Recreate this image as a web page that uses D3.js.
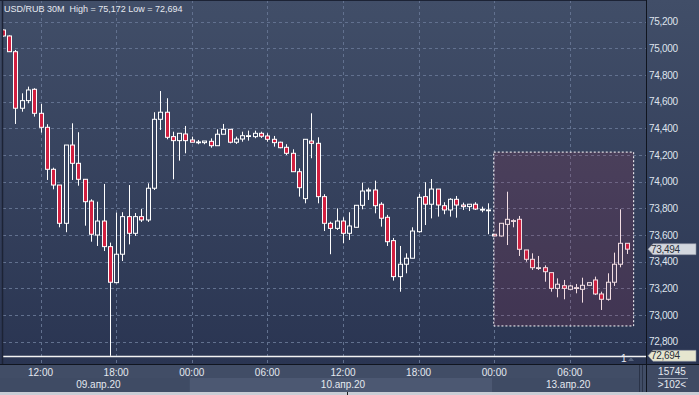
<!DOCTYPE html>
<html>
<head>
<meta charset="utf-8">
<script src="https://cdn.jsdelivr.net/npm/d3@7"></script>
<style>
  html, body { margin: 0; padding: 0; background: #2e3a55; }
  svg { display: block; font-family: "Liberation Sans", Arial, sans-serif; }
</style>
</head>
<body>
<div id="chart"></div>
<script>
// USD/RUB, 30 minute candles, 09.04.20 09:00 .. 13.04.20 10:30
const openPrices = [
  75138, 75093, 74975, 74551, 74608, 74693, 74513, 74408, 74093, 73975,
  73688, 74275, 74138, 74018, 73855, 73600, 73705, 73513, 73243, 73456,
  73738, 73613, 73738, 73713, 73951, 74468, 74521, 74338, 74308, 74358,
  74313, 74298, 74293, 74303, 74270, 74356, 74393, 74296, 74320, 74345,
  74338, 74363, 74343, 74318, 74296, 74258, 74213, 74075, 73873, 74305,
  74288, 73888, 73688, 73650, 73705, 73613, 73658, 73823, 73930, 73938,
  73831, 73733, 73558, 73288, 73381, 73426, 73625, 73888, 73831, 73945,
  73820, 73788, 73868, 73825, 73813, 73831, 73793, 73788, 73606, 73593,
  73680, 73708, 73718, 73488, 73418, 73355, 73355, 73318, 73200, 73220,
  73193, 73205, 73193, 73223, 73263, 73158, 73118, 73246, 73381, 73538
];
const highPrices = [
  75145, 75097, 74988, 74663, 74713, 74701, 74583, 74431, 74105, 73975,
  74275, 74438, 74371, 74018, 73868, 73850, 73983, 73543, 73768, 73771,
  73975, 73765, 73795, 73988, 74521, 74680, 74626, 74375, 74363, 74418,
  74338, 74313, 74305, 74325, 74393, 74433, 74393, 74338, 74375, 74383,
  74383, 74375, 74363, 74343, 74300, 74281, 74243, 74100, 74318, 74513,
  74333, 73906, 73700, 73800, 73733, 73771, 73823, 73993, 73955, 74008,
  73846, 73751, 73578, 73518, 73463, 73658, 73908, 73996, 74020, 73945,
  73846, 73876, 73893, 73843, 73831, 73846, 73813, 73838, 73606, 73688,
  73925, 73718, 73743, 73488, 73463, 73443, 73373, 73318, 73275, 73263,
  73225, 73233, 73280, 73243, 73288, 73175, 73313, 73468, 73793, 73538
];
const lowPrices = [
  75085, 74973, 74433, 74525, 74588, 74488, 74368, 74013, 73943, 73658,
  73621, 74013, 73970, 73670, 73550, 73518, 73480, 72694, 73238, 73405,
  73530, 73593, 73698, 73698, 73938, 74388, 74318, 74018, 74158, 74213,
  74296, 74281, 74281, 74255, 74270, 74356, 74288, 74283, 74300, 74308,
  74326, 74328, 74300, 74263, 74251, 74200, 74075, 73888, 73838, 74176,
  73838, 73630, 73456, 73638, 73538, 73563, 73658, 73793, 73863, 73763,
  73663, 73518, 73258, 73175, 73313, 73426, 73618, 73675, 73725, 73738,
  73756, 73738, 73730, 73788, 73780, 73788, 73771, 73606, 73593, 73588,
  73525, 73658, 73443, 73400, 73338, 73338, 73250, 73175, 73133, 73118,
  73188, 73163, 73093, 73223, 73150, 73038, 73108, 73218, 73358, 73458
];
const closePrices = [
  75093, 74975, 74551, 74608, 74688, 74513, 74408, 74093, 73975, 73688,
  74275, 74138, 74018, 73850, 73606, 73705, 73513, 73246, 73456, 73738,
  73613, 73738, 73713, 73951, 74468, 74521, 74333, 74308, 74363, 74308,
  74296, 74298, 74305, 74270, 74356, 74393, 74296, 74320, 74345, 74345,
  74363, 74341, 74318, 74293, 74255, 74213, 74075, 73955, 74318, 74288,
  73888, 73688, 73650, 73705, 73613, 73668, 73823, 73930, 73938, 73820,
  73726, 73550, 73288, 73381, 73426, 73630, 73883, 73831, 73945, 73825,
  73788, 73868, 73825, 73813, 73831, 73795, 73793, 73788, 73593, 73688,
  73718, 73708, 73493, 73418, 73355, 73355, 73325, 73200, 73231, 73200,
  73218, 73205, 73223, 73243, 73158, 73118, 73246, 73381, 73538, 73494
];

// time axis: candle index -> label
const timeTickIndex = [6, 18, 30, 42, 54, 66, 78, 90];
const timeTickLabels = ["12:00", "18:00", "00:00", "06:00", "12:00", "18:00", "00:00", "06:00"];
// trading days: first candle index of each day
const dayStartIndex = [0, 30, 78];
const dayLabels = ["09.апр.20", "10.апр.20", "13.апр.20"];
const priceTicks = [72800, 73000, 73200, 73400, 73600, 73800, 74000, 74200, 74400, 74600, 74800, 75000, 75200];

const title = "USD/RUB 30M  High = 75,172 Low = 72,694";
const lastPrice = 73494;
const lowPrice = 72694;
// highlighted area (candle index range, price range)
const selFrom = 78, selTo = 100.2, selHigh = 74222, selLow = 72918;

const W = 699, H = 395;
const plotRight = 646, plotBottom = 364;

const candles = openPrices.map((o, i) => ({
  i: i, o: o, h: highPrices[i], l: lowPrices[i], c: closePrices[i]
}));

const x = d3.scaleLinear().domain([0, candles.length - 1]).range([2.7, 626.6]);
const y = d3.scaleLinear().domain([72800, 75200]).range([341.7, 21.7]);

const svg = d3.select("#chart").append("svg")
  .attr("width", W).attr("height", H);

const defs = svg.append("defs");
const grad = defs.append("linearGradient").attr("id", "bg")
  .attr("x1", 0).attr("y1", 0).attr("x2", 0).attr("y2", 1);
grad.append("stop").attr("offset", "0%").attr("stop-color", "#414e68");
grad.append("stop").attr("offset", "100%").attr("stop-color", "#2a3552");
defs.append("clipPath").attr("id", "plotclip")
  .append("rect").attr("x", 3).attr("y", 0).attr("width", plotRight - 3).attr("height", plotBottom);

// backgrounds
svg.append("rect").attr("width", W).attr("height", H).attr("fill", "#c9cdd5");
svg.append("rect").attr("width", W).attr("height", plotBottom).attr("fill", "url(#bg)");

// time axis area
svg.append("rect").attr("x", 0).attr("y", plotBottom).attr("width", W).attr("height", 28).attr("fill", "#414d66");
dayStartIndex.forEach((s, k) => {
  const x0 = k === 0 ? 0 : x(s) - 2;
  const x1 = k + 1 < dayStartIndex.length ? x(dayStartIndex[k + 1]) - 2 : 640;
  svg.append("rect").attr("x", x0).attr("y", 378).attr("width", x1 - x0).attr("height", 14)
    .attr("fill", k % 2 === 1 ? "#4c5872" : "#3f4b64");
  svg.append("text").attr("x", (Math.max(x0, 3) + x1) / 2 + 2).attr("y", 388)
    .attr("text-anchor", "middle").attr("font-size", 10).attr("fill", "#e4e8ef")
    .text(dayLabels[k]);
});
svg.append("rect").attr("x", 639).attr("y", plotBottom).attr("width", 1).attr("height", 28).attr("fill", "#2a3348");
svg.append("rect").attr("x", 642).attr("y", plotBottom).attr("width", 1).attr("height", 28).attr("fill", "#2a3348");

svg.selectAll("text.time").data(timeTickIndex).enter().append("text")
  .attr("class", "time")
  .attr("x", d => x(d)).attr("y", 376)
  .attr("text-anchor", "middle").attr("font-size", 10).attr("fill", "#e4e8ef")
  .text((d, k) => timeTickLabels[k]);

// plot
const plot = svg.append("g").attr("clip-path", "url(#plotclip)");

plot.selectAll("line.hgrid").data(priceTicks).enter().append("line")
  .attr("x1", 3).attr("x2", plotRight)
  .attr("y1", d => Math.round(y(d)) + 0.5).attr("y2", d => Math.round(y(d)) + 0.5)
  .attr("stroke", "#62718f").attr("stroke-dasharray", "3,3");

plot.selectAll("line.vgrid").data(timeTickIndex).enter().append("line")
  .attr("x1", d => Math.round(x(d)) + 0.5).attr("x2", d => Math.round(x(d)) + 0.5)
  .attr("y1", 0).attr("y2", plotBottom)
  .attr("stroke", "#62718f").attr("stroke-dasharray", "3,3");

// low line
plot.append("line").attr("x1", 3).attr("x2", plotRight)
  .attr("y1", Math.round(y(lowPrice)) + 0.5).attr("y2", Math.round(y(lowPrice)) + 0.5)
  .attr("stroke", "#f4f4f4").attr("stroke-width", 1.3);

const cg = plot.selectAll("g.candle").data(candles).enter().append("g").attr("class", "candle");
cg.append("line")
  .attr("x1", d => Math.round(x(d.i)) + 0.5).attr("x2", d => Math.round(x(d.i)) + 0.5)
  .attr("y1", d => y(d.h)).attr("y2", d => y(d.l))
  .attr("stroke", "#ffffff").attr("stroke-width", 1);
cg.append("rect")
  .attr("x", d => Math.round(x(d.i)) - 1.5)
  .attr("y", d => y(Math.max(d.o, d.c)))
  .attr("width", 4)
  .attr("height", d => Math.max(0.8, Math.abs(y(d.o) - y(d.c))))
  .attr("fill", d => d.c < d.o ? "#d21f40" : "#37435f")
  .attr("stroke", "#ffffff").attr("stroke-width", 1);

// selection overlay
plot.append("rect")
  .attr("x", x(selFrom) - 0.5).attr("y", y(selHigh))
  .attr("width", x(selTo) - x(selFrom)).attr("height", y(selLow) - y(selHigh))
  .attr("fill", "rgb(175,45,75)").attr("fill-opacity", 0.16)
  .attr("stroke", "#ffffff").attr("stroke-dasharray", "2,2").attr("stroke-width", 1);

// title, sized to span the same width as the original caption
const titleText = svg.append("text").attr("x", 4).attr("y", 11.5).attr("font-size", 11).attr("fill", "#e6e9f0")
  .attr("xml:space", "preserve").style("white-space", "pre")
  .text(title);
const tl = titleText.node().getComputedTextLength();
if (tl > 0) titleText.attr("font-size", Math.min(12, 11 * 179 / tl));

// "1" marker
svg.append("text").attr("x", 621).attr("y", 362).attr("font-size", 10).attr("fill", "#e6e9f0").text("1");
svg.append("path").attr("d", "M628,361 L631,357 L634,361 Z").attr("fill", "#56637d");

// plot borders
svg.append("line").attr("x1", 0).attr("x2", plotRight).attr("y1", 0.5).attr("y2", 0.5).attr("stroke", "#1c2335");
svg.append("line").attr("x1", 2.5).attr("x2", 2.5).attr("y1", 0).attr("y2", plotBottom).attr("stroke", "#1c2335").attr("stroke-width", 1.5);
svg.append("line").attr("x1", 0).attr("x2", W).attr("y1", plotBottom + 0.5).attr("y2", plotBottom + 0.5).attr("stroke", "#10151f");
svg.append("line").attr("x1", plotRight + 0.5).attr("x2", plotRight + 0.5).attr("y1", 0).attr("y2", H - 3).attr("stroke", "#10151f");

// price axis
const yAxis = d3.axisRight(y).tickValues(priceTicks).tickFormat(d3.format(",")).tickSize(0).tickPadding(2);
const ya = svg.append("g").attr("transform", `translate(${plotRight + 1},0)`).call(yAxis);
ya.select(".domain").remove();
ya.selectAll("text").attr("font-size", 10).attr("fill", "#dfe4ed").attr("letter-spacing", -0.3)
  .attr("font-family", "Liberation Sans, Arial, sans-serif");

// price tags
function tag(v, fill) {
  const yy = y(v);
  svg.append("path")
    .attr("d", `M${plotRight + 2},${yy} L${plotRight + 7},${yy - 5.5} L696,${yy - 5.5} L696,${yy + 5.5} L${plotRight + 7},${yy + 5.5} Z`)
    .attr("fill", fill).attr("stroke", "#8a90a0").attr("stroke-width", 0.6);
  svg.append("text").attr("x", plotRight + 5).attr("y", yy + 3.6)
    .attr("font-size", 10).attr("letter-spacing", -0.3).attr("fill", "#2a2f3a")
    .text(d3.format(",")(v));
}
tag(lastPrice, "#d3d7de");
tag(lowPrice, "#e6e6cf");

// bottom-right info box
svg.append("rect").attr("x", plotRight + 1).attr("y", plotBottom + 1).attr("width", W - plotRight - 1).attr("height", 27).attr("fill", "#3f4a63");
svg.append("text").attr("x", 672).attr("y", 375).attr("text-anchor", "middle").attr("font-size", 10).attr("fill", "#e6e9f0").text("15745");
svg.append("line").attr("x1", 658).attr("x2", 688).attr("y1", 378.5).attr("y2", 378.5).attr("stroke", "#9aa3b5");
svg.append("text").attr("x", 672).attr("y", 388).attr("text-anchor", "middle").attr("font-size", 10).attr("fill", "#e6e9f0").text(">102<");

// scrollbar strip
svg.append("rect").attr("x", 0).attr("y", 392).attr("width", W).attr("height", 3).attr("fill", "#c9cdd5");
svg.append("rect").attr("x", 347).attr("y", 392).attr("width", 1).attr("height", 3).attr("fill", "#222");
</script>
</body>
</html>
